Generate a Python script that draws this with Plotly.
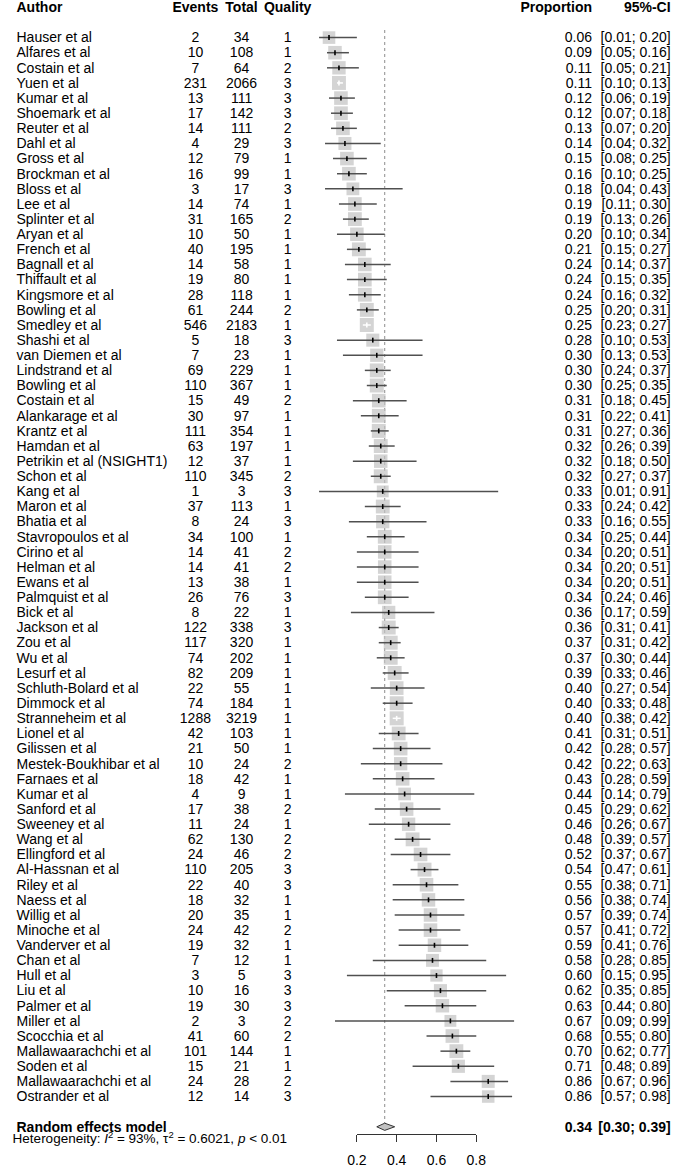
import plotly.graph_objects as go

authors = [
    "Hauser et al", "Alfares et al", "Costain et al", "Yuen et al", "Kumar et al",
    "Shoemark et al", "Reuter et al", "Dahl et al", "Gross et al", "Brockman et al",
    "Bloss et al", "Lee et al", "Splinter et al", "Aryan et al", "French et al",
    "Bagnall et al", "Thiffault et al", "Kingsmore et al", "Bowling et al", "Smedley et al",
    "Shashi et al", "van Diemen et al", "Lindstrand et al", "Bowling et al", "Costain et al",
    "Alankarage et al", "Krantz et al", "Hamdan et al", "Petrikin et al (NSIGHT1)", "Schon et al",
    "Kang et al", "Maron et al", "Bhatia et al", "Stavropoulos et al", "Cirino et al",
    "Helman et al", "Ewans et al", "Palmquist et al", "Bick et al", "Jackson et al",
    "Zou et al", "Wu et al", "Lesurf et al", "Schluth-Bolard et al", "Dimmock et al",
    "Stranneheim et al", "Lionel et al", "Gilissen et al", "Mestek-Boukhibar et al", "Farnaes et al",
    "Kumar et al", "Sanford et al", "Sweeney et al", "Wang et al", "Ellingford et al",
    "Al-Hassnan et al", "Riley et al", "Naess et al", "Willig et al", "Minoche et al",
    "Vanderver et al", "Chan et al", "Hull et al", "Liu et al", "Palmer et al",
    "Miller et al", "Scocchia et al", "Mallawaarachchi et al", "Soden et al", "Mallawaarachchi et al",
    "Ostrander et al",
]
events = [
    2, 10, 7, 231, 13, 17, 14, 4, 12, 16,
    3, 14, 31, 10, 40, 14, 19, 28, 61, 546,
    5, 7, 69, 110, 15, 30, 111, 63, 12, 110,
    1, 37, 8, 34, 14, 14, 13, 26, 8, 122,
    117, 74, 82, 22, 74, 1288, 42, 21, 10, 18,
    4, 17, 11, 62, 24, 110, 22, 18, 20, 24,
    19, 7, 3, 10, 19, 2, 41, 101, 15, 24,
    12,
]
totals = [
    34, 108, 64, 2066, 111, 142, 111, 29, 79, 99,
    17, 74, 165, 50, 195, 58, 80, 118, 244, 2183,
    18, 23, 229, 367, 49, 97, 354, 197, 37, 345,
    3, 113, 24, 100, 41, 41, 38, 76, 22, 338,
    320, 202, 209, 55, 184, 3219, 103, 50, 24, 42,
    9, 38, 24, 130, 46, 205, 40, 32, 35, 42,
    32, 12, 5, 16, 30, 3, 60, 144, 21, 28,
    14,
]
quality = [
    1, 1, 2, 3, 3, 3, 2, 3, 1, 1,
    3, 1, 2, 1, 1, 1, 1, 1, 2, 1,
    3, 1, 1, 1, 2, 1, 1, 1, 1, 2,
    3, 1, 3, 1, 2, 2, 1, 3, 1, 3,
    1, 1, 1, 1, 1, 1, 1, 1, 2, 1,
    1, 2, 1, 2, 2, 3, 3, 1, 1, 2,
    1, 1, 3, 3, 3, 2, 2, 1, 1, 2,
    3,
]
proportion = [
    0.06, 0.09, 0.11, 0.11, 0.12, 0.12, 0.13, 0.14, 0.15, 0.16,
    0.18, 0.19, 0.19, 0.20, 0.21, 0.24, 0.24, 0.24, 0.25, 0.25,
    0.28, 0.30, 0.30, 0.30, 0.31, 0.31, 0.31, 0.32, 0.32, 0.32,
    0.33, 0.33, 0.33, 0.34, 0.34, 0.34, 0.34, 0.34, 0.36, 0.36,
    0.37, 0.37, 0.39, 0.40, 0.40, 0.40, 0.41, 0.42, 0.42, 0.43,
    0.44, 0.45, 0.46, 0.48, 0.52, 0.54, 0.55, 0.56, 0.57, 0.57,
    0.59, 0.58, 0.60, 0.62, 0.63, 0.67, 0.68, 0.70, 0.71, 0.86,
    0.86,
]
ci_low = [
    0.01, 0.05, 0.05, 0.10, 0.06, 0.07, 0.07, 0.04, 0.08, 0.10,
    0.04, 0.11, 0.13, 0.10, 0.15, 0.14, 0.15, 0.16, 0.20, 0.23,
    0.10, 0.13, 0.24, 0.25, 0.18, 0.22, 0.27, 0.26, 0.18, 0.27,
    0.01, 0.24, 0.16, 0.25, 0.20, 0.20, 0.20, 0.24, 0.17, 0.31,
    0.31, 0.30, 0.33, 0.27, 0.33, 0.38, 0.31, 0.28, 0.22, 0.28,
    0.14, 0.29, 0.26, 0.39, 0.37, 0.47, 0.38, 0.38, 0.39, 0.41,
    0.41, 0.28, 0.15, 0.35, 0.44, 0.09, 0.55, 0.62, 0.48, 0.67,
    0.57,
]
ci_high = [
    0.20, 0.16, 0.21, 0.13, 0.19, 0.18, 0.20, 0.32, 0.25, 0.25,
    0.43, 0.30, 0.26, 0.34, 0.27, 0.37, 0.35, 0.32, 0.31, 0.27,
    0.53, 0.53, 0.37, 0.35, 0.45, 0.41, 0.36, 0.39, 0.50, 0.37,
    0.91, 0.42, 0.55, 0.44, 0.51, 0.51, 0.51, 0.46, 0.59, 0.41,
    0.42, 0.44, 0.46, 0.54, 0.48, 0.42, 0.51, 0.57, 0.63, 0.59,
    0.79, 0.62, 0.67, 0.57, 0.67, 0.61, 0.71, 0.74, 0.74, 0.72,
    0.76, 0.85, 0.95, 0.85, 0.80, 0.99, 0.80, 0.77, 0.89, 0.96,
    0.98,
]
summary_label = "Random effects model"
summary_est = 0.34
summary_low = 0.30
summary_high = 0.39
tau2 = 0.6021
heterogeneity = ("Heterogeneity: <i>I</i><sup>2</sup> = 93%, \u03c4<sup>2</sup> = 0.6021, "
                 "<i>p</i> &lt; 0.01")
headers = ["Author", "Events", "Total", "Quality", "Proportion", "95%-CI"]
tick_values = [0.2, 0.4, 0.6, 0.8]

# ---------------- layout constants (pixels) ----------------
W, H = 685, 1168
PX0 = 316.3      # pixel of proportion 0
PXU = 205.0      # pixels per unit proportion
ROW0 = 37.7      # pixel centre of first row
ROWH = 15.18     # row height
TXT_DY = 1.3 / ROWH   # small downward nudge for text baselines
FONT = "Liberation Sans, Arial, sans-serif"
FS = 14
SQ_COL = "#C2C2C2"
LINE_COL = "#505050"

n = len(authors)
rows = list(range(n))
y_head = -2
y_sum = n + 1
y_het = n + 1.78

x_range = [-PX0 / PXU, (W - PX0) / PXU]
y_range = [(H - ROW0) / ROWH, -ROW0 / ROWH]


def px2x(px):
    return (px - PX0) / PXU


# columns (pixel x, textposition)
col_author = (6.7, "middle right")
col_events = (191.0, "middle center")
col_total = (238.5, "middle center")
col_quality = (286.0, "middle center")
col_prop = (599.5, "middle left")
col_ci = (680.5, "middle left")

fig = go.Figure()

# reference (summary) dotted line
fig.add_shape(type="line", xref="x", yref="y", x0=summary_est, x1=summary_est,
              y0=-0.5, y1=y_sum - 0.25, layer="below",
              line=dict(color="#8c8c8c", width=1, dash="dot"))

# square sizes from random-effects weights
weights = []
for e, t in zip(events, totals):
    p = e / t
    v = 1.0 / (t * p * (1 - p))
    weights.append(1.0 / (v + tau2))
wmax = max(weights)
sizes = [11.0 + 3.0 * w / wmax for w in weights]

fig.add_trace(go.Scatter(
    x=proportion, y=rows, mode="markers",
    marker=dict(symbol="square", size=sizes, color=SQ_COL, line=dict(width=0)),
    hoverinfo="skip", cliponaxis=False))

# CI lines: dark outside square, white when fully inside the square
inside = [(hi - lo) * PXU < s for lo, hi, s in zip(ci_low, ci_high, sizes)]
xd, yd, xw, yw = [], [], [], []
for i, (lo, hi) in enumerate(zip(ci_low, ci_high)):
    if inside[i]:
        xw += [lo, hi, None]; yw += [i, i, None]
    else:
        xd += [lo, hi, None]; yd += [i, i, None]
fig.add_trace(go.Scatter(x=xd, y=yd, mode="lines",
                         line=dict(color=LINE_COL, width=1.5), hoverinfo="skip"))
fig.add_trace(go.Scatter(x=xw, y=yw, mode="lines",
                         line=dict(color="white", width=1.5), hoverinfo="skip"))

# point estimate ticks
fig.add_trace(go.Scatter(
    x=proportion, y=rows, mode="markers",
    marker=dict(symbol="line-ns", size=3.5,
                line=dict(width=1.6, color=["white" if b else "black" for b in inside])),
    hoverinfo="skip"))

# summary diamond
dh = 3.6 / ROWH
fig.add_trace(go.Scatter(
    x=[summary_low, summary_est, summary_high, summary_est, summary_low],
    y=[y_sum, y_sum - dh, y_sum, y_sum + dh, y_sum],
    mode="lines", fill="toself", fillcolor=SQ_COL,
    line=dict(color="#333333", width=1), hoverinfo="skip"))

# dummy trace for the visible x axis
fig.add_trace(go.Scatter(x=tick_values, y=[y_sum] * len(tick_values), xaxis="x2",
                         mode="markers", marker=dict(opacity=0), hoverinfo="skip"))


def add_text_col(texts, ys, col, size=FS):
    px, pos = col
    fig.add_trace(go.Scatter(
        x=[px2x(px)] * len(texts), y=[v + TXT_DY for v in ys], mode="text", text=texts,
        textposition=pos, cliponaxis=False, hoverinfo="skip",
        textfont=dict(family=FONT, size=size, color="black")))


def bold(s):
    return "<b>" + s + "</b>"


cols = [col_author, col_events, col_total, col_quality, col_prop, col_ci]
col_texts = [
    authors,
    [str(v) for v in events],
    [str(v) for v in totals],
    [str(v) for v in quality],
    [f"{v:.2f}" for v in proportion],
    [f"[{lo:.2f}; {hi:.2f}]" for lo, hi in zip(ci_low, ci_high)],
]
extra = {0: [bold(summary_label)],
         4: [bold(f"{summary_est:.2f}")],
         5: [bold(f"[{summary_low:.2f}; {summary_high:.2f}]")]}
for k, (c, txts) in enumerate(zip(cols, col_texts)):
    t = [bold(headers[k])] + list(txts)
    ys = [y_head] + rows
    if k in extra:
        t += extra[k]
        ys += [y_sum]
    add_text_col(t, ys, c)

add_text_col([heterogeneity], [y_het], (2.7, "middle right"), size=13.5)

ax_px_y = 1138.3
fig.update_layout(
    width=W, height=H,
    margin=dict(l=0, r=0, t=0, b=0),
    paper_bgcolor="white", plot_bgcolor="rgba(0,0,0,0)",
    showlegend=False, hovermode=False,
    xaxis=dict(range=x_range, domain=[0, 1], visible=False, fixedrange=True),
    yaxis=dict(range=y_range, domain=[0, 1], visible=False, fixedrange=True),
    xaxis2=dict(
        domain=[(PX0 + PXU * tick_values[0]) / W, (PX0 + PXU * tick_values[-1]) / W],
        range=[tick_values[0], tick_values[-1]],
        anchor="free", position=1 - ax_px_y / H, side="bottom",
        showline=True, linecolor="#333333", linewidth=1,
        ticks="outside", ticklen=7, tickwidth=1, tickcolor="#333333",
        ticklabelstandoff=6,
        tickvals=tick_values, ticktext=[f"{t:.1f}" for t in tick_values],
        showgrid=False, zeroline=False, fixedrange=True,
        tickfont=dict(family=FONT, size=FS, color="black")),
)

fig.write_html(
    "out.html",
    config={"displayModeBar": False, "staticPlot": True},
    post_script="document.body.style.margin='0';document.body.style.overflow='hidden';",
)
